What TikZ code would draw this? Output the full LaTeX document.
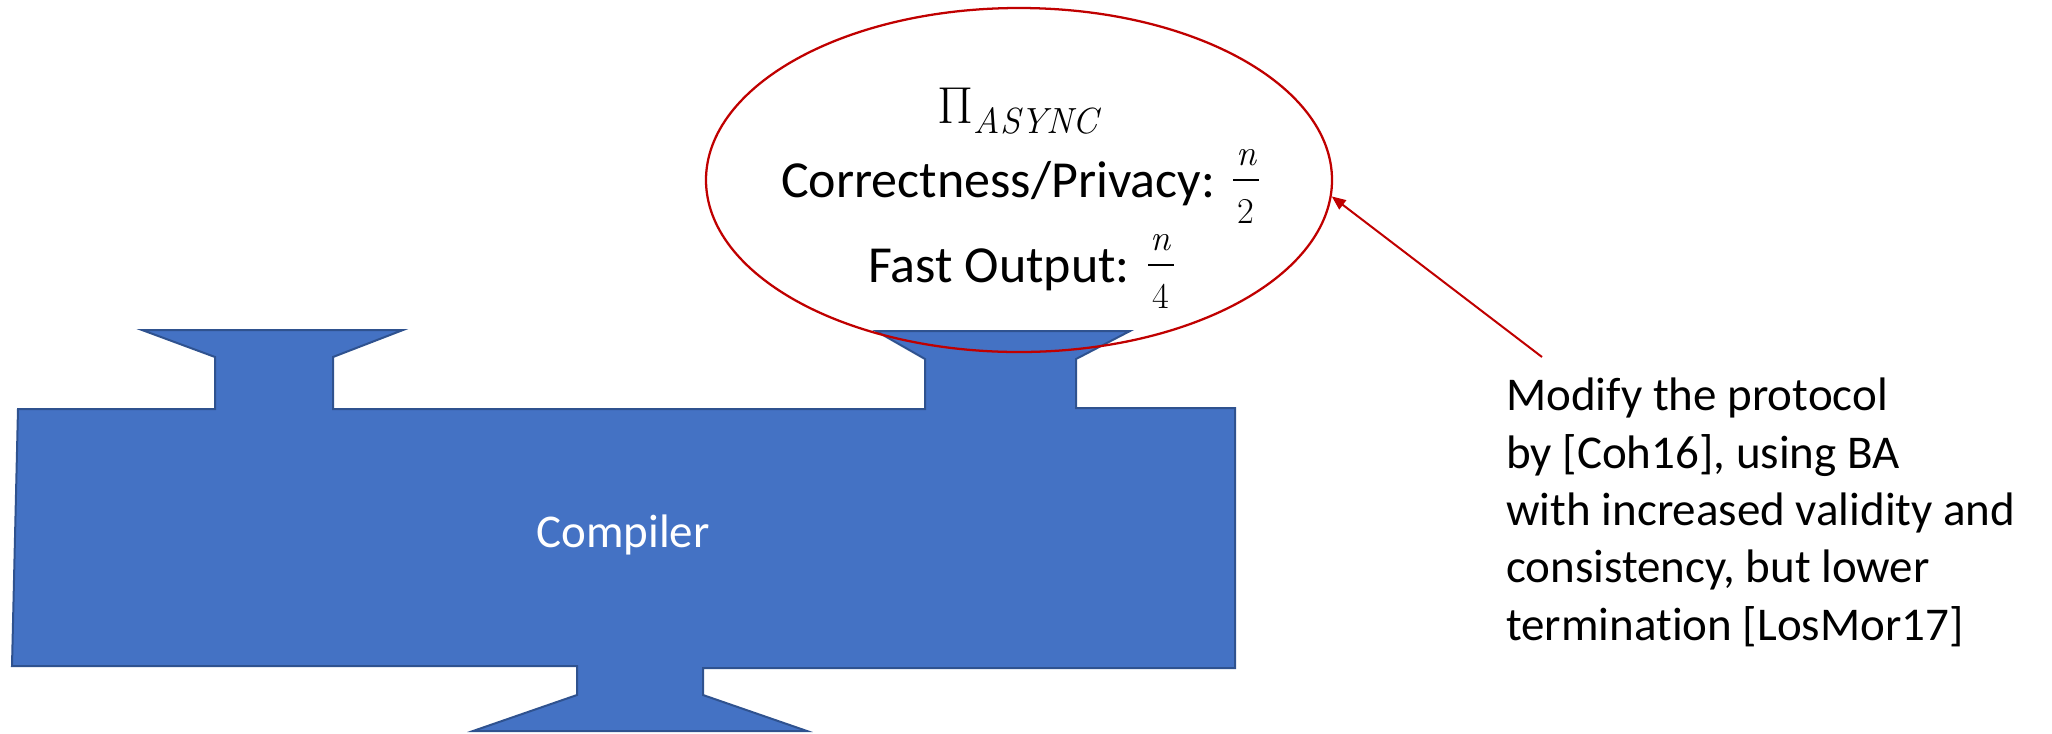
\documentclass[tikz,border=0pt]{standalone}
\usepackage{fontspec}
\setmainfont{Carlito}[Ligatures=NoCommon]
\newfontfamily\lmfont{Latin Modern Roman}
\usetikzlibrary{shapes.geometric,arrows.meta}

\definecolor{shapeblue}{HTML}{4472C4}
\definecolor{shapeedge}{HTML}{2F528F}
\definecolor{notered}{HTML}{C00000}

% small serif pieces of the formulas
\newcommand{\smallser}{\fontsize{27.3}{30}\selectfont\lmfont}
\newcommand{\var}[1]{{\smallser\itshape #1}}
\newcommand{\num}[1]{{\smallser #1}}

% stacked fraction with small numerator/denominator
\newsavebox\fracnum
\newsavebox\fracden
\newlength\fracwd
\newcommand{\ufrac}[2]{%
  \sbox\fracnum{#1}\sbox\fracden{#2}%
  \setlength\fracwd{\wd\fracnum}%
  \ifdim\wd\fracden>\fracwd \setlength\fracwd{\wd\fracden}\fi
  \addtolength\fracwd{4pt}%
  \hspace{2pt}%
  \rlap{\raisebox{24pt}{\makebox[\fracwd]{\usebox\fracnum}}}%
  \rlap{\raisebox{12pt}{\rule{\fracwd}{1.5pt}}}%
  \raisebox{-20pt}{\makebox[\fracwd]{\usebox\fracden}}}

\tikzset{
  compilerbody/.style={fill=shapeblue, draw=shapeedge, line width=1.5pt, line join=miter},
  protocol/.style={ellipse, draw=notered, line width=1.7pt, inner sep=0pt,
    minimum width=469.5pt, minimum height=258pt},
  bigtext/.style={inner sep=0pt, font=\fontsize{39}{47}\selectfont},
  bodytext/.style={inner sep=0pt, font=\fontsize{35.25}{43}\selectfont},
  pointer/.style={draw=notered, line width=1.5pt, -{Triangle[length=10.5pt,width=8.5pt]}}
}

\begin{document}
\begin{tikzpicture}[x=0.75pt, y=-0.75pt]
\useasboundingbox (0,0) rectangle (2052,733);

% compiler block with its three ports
\path[compilerbody]
  (18,409) -- (215,409) -- (215,357) -- (142,330) -- (403,330) -- (333,357)
  -- (333,409) -- (925,409) -- (925,359) -- (876,331) -- (1130,331)
  -- (1076,359) -- (1076,408) -- (1235,408) -- (1235,668) -- (703,668)
  -- (703,695) -- (807,731) -- (473,731) -- (577,695) -- (577,666)
  -- (12,666) -- cycle;
\node[bodytext, text=white, anchor=base] (compiler) at (623,547) {Compiler};

% protocol bubble
\node[protocol] (prot) at (1019,180) {};
\node[bigtext, anchor=base] (ptitle) at (1018,123)
  {{\lmfont Π}\raisebox{-8pt}{\var{ASYNC}}};
\node[bigtext, anchor=base] (pcorr) at (1020,197)
  {Correctness/Privacy: \ufrac{\var{n}}{\num{2}}};
\node[bigtext, anchor=base] (pfast) at (1021,282)
  {Fast Output: \ufrac{\var{n}}{\num{4}}};

% annotation
\node[bodytext, anchor=north west, align=left] (note) at (1506,378)
  {Modify the protocol\\by [Coh16], using BA\\with increased validity and\\consistency, but lower\\termination [LosMor17]};
\coordinate (notetail) at (1542,357);
\draw[pointer] (notetail) -- (prot.-3);
\end{tikzpicture}
\end{document}
